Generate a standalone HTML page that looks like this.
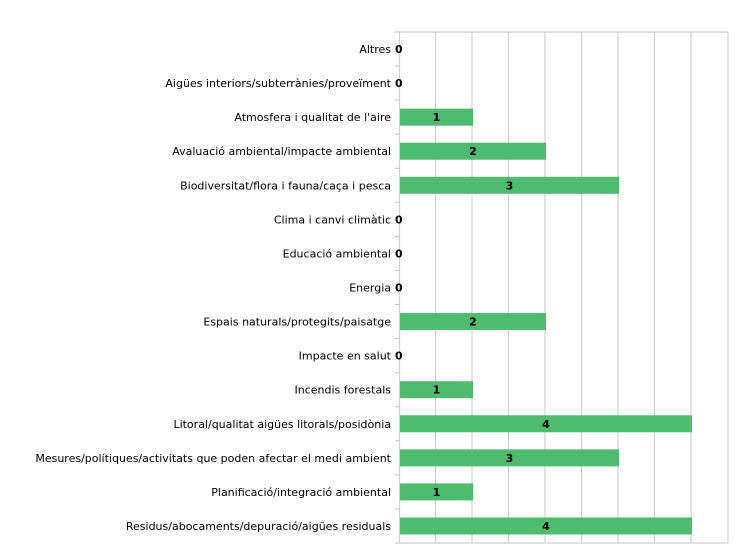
<!DOCTYPE html>
<html><head><meta charset="utf-8"><style>body{margin:0;background:#fff}svg{display:block}</style></head>
<body>
<svg width="741" height="555" xmlns="http://www.w3.org/2000/svg" font-family="DejaVu Sans, Liberation Sans, sans-serif">
<g stroke="#d0d0d0" stroke-width="1.2">
<line x1="435.5" y1="32" x2="435.5" y2="543"/><line x1="472" y1="32" x2="472" y2="543"/>
<line x1="508.5" y1="32" x2="508.5" y2="543"/><line x1="545" y1="32" x2="545" y2="543"/>
<line x1="581.5" y1="32" x2="581.5" y2="543"/><line x1="618" y1="32" x2="618" y2="543"/>
<line x1="654.5" y1="32" x2="654.5" y2="543"/><line x1="691" y1="32" x2="691" y2="543"/>
<line x1="728" y1="32" x2="728" y2="543"/>
<line x1="399" y1="32" x2="728" y2="32"/><line x1="399" y1="543" x2="728" y2="543"/>
<line x1="399.5" y1="32" x2="399.5" y2="543"/>
</g>
<g id="ticks" stroke="#c0c0c0"></g>
<g id="rows" font-size="11"></g>
<script>
var labels=["Altres","Aigües interiors/subterrànies/proveïment","Atmosfera i qualitat de l'aire","Avaluació ambiental/impacte ambiental","Biodiversitat/flora i fauna/caça i pesca","Clima i canvi climàtic","Educació ambiental","Energia","Espais naturals/protegits/paisatge","Impacte en salut","Incendis forestals","Litoral/qualitat aigües litorals/posidònia","Mesures/polítiques/activitats que poden afectar el medi ambient","Planificació/integració ambiental","Residus/abocaments/depuració/aigües residuals"];
var vals=[0,0,1,2,3,0,0,0,2,0,1,4,3,1,4];
var ns="http://www.w3.org/2000/svg",g=document.getElementById("rows"),t=document.getElementById("ticks");
var step=511/15;
for(var i=0;i<=15;i++){var l=document.createElementNS(ns,"line");var y=32+i*step;l.setAttribute("x1",395);l.setAttribute("x2",399);l.setAttribute("y1",y);l.setAttribute("y2",y);t.appendChild(l);}
for(var i=0;i<15;i++){var cy=32+(i+0.5)*step;
var tx=document.createElementNS(ns,"text");tx.setAttribute("x",391);tx.setAttribute("y",cy+4);tx.setAttribute("text-anchor","end");tx.setAttribute("fill","#000");tx.textContent=labels[i];g.appendChild(tx);
var v=vals[i];
if(v>0){var r=document.createElementNS(ns,"rect");r.setAttribute("x",400);r.setAttribute("y",cy-8.5);r.setAttribute("width",v*73);r.setAttribute("height",17);r.setAttribute("fill","#4fbb6f");g.appendChild(r);
var n=document.createElementNS(ns,"text");n.setAttribute("x",400+v*73/2);n.setAttribute("y",cy+4);n.setAttribute("text-anchor","middle");n.setAttribute("font-weight","bold");n.textContent=v;g.appendChild(n);}
else{var n=document.createElementNS(ns,"text");n.setAttribute("x",395);n.setAttribute("y",cy+4);n.setAttribute("font-weight","bold");n.textContent="0";g.appendChild(n);}
}
</script>
</svg>
</body></html>
